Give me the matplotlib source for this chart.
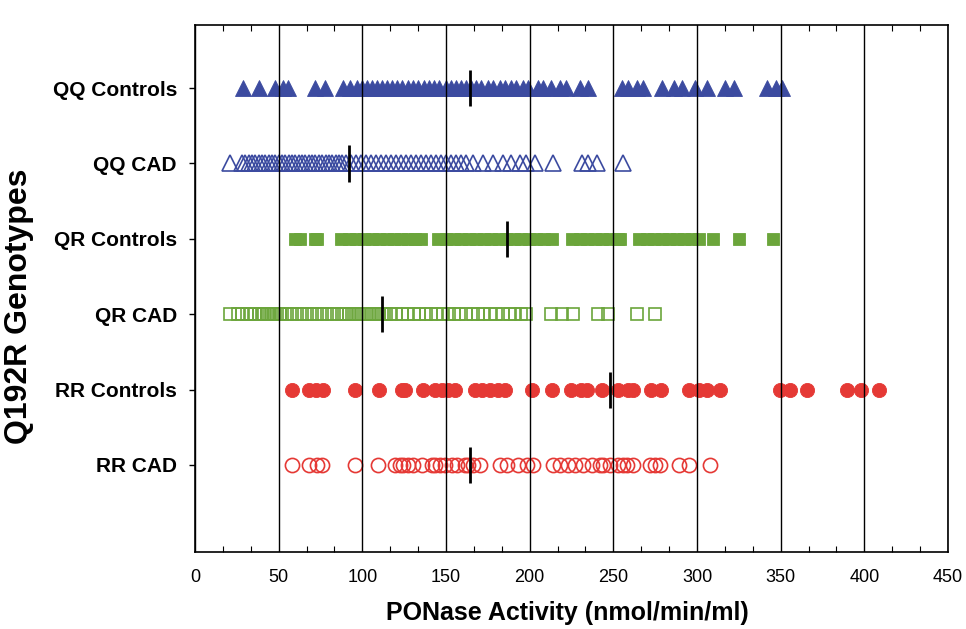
import matplotlib
matplotlib.use("Agg")
import matplotlib.pyplot as plt
from matplotlib.ticker import MultipleLocator

plt.rcParams['font.family'] = ['Liberation Sans', 'DejaVu Sans']

categories = ["QQ Controls", "QQ CAD", "QR Controls", "QR CAD", "RR Controls", "RR CAD"]

qq_controls = [28.9, 38.2, 47.8, 52.8, 55.8, 71.7, 77.7, 88.6, 92.6, 96.6,
               100, 103, 106, 109, 112, 115, 118, 121, 124, 127, 130, 133, 137, 140,
               143, 146, 150, 153, 156, 159, 162, 165, 168, 171, 175, 178, 182, 185,
               189, 192, 196, 199, 205, 208, 213, 218, 222, 230, 235, 255, 259, 264,
               268, 279, 286, 291, 299, 306, 317, 322, 342, 347, 351]
qq_cad = [20.9, 28, 30, 32, 34, 36, 38, 40, 42, 44, 46, 48, 50, 52, 54, 56, 58, 60,
          62, 64, 66, 68, 70, 72, 74, 76, 78, 80, 82, 84, 86, 88, 90, 93, 96, 99,
          102, 105, 108, 111, 114, 117, 120, 123, 126, 129, 132, 135, 138, 141,
          144, 147, 150, 153, 156, 159, 162, 166, 172, 178, 184, 189, 194, 198,
          203, 214, 231, 235, 240, 256]
qr_controls = [59.5, 62.5, 71.5, 72.7, 87.5, 92, 96.5, 101, 105.5, 110, 114.5, 119,
               123, 127.5, 131.5, 135, 145.5, 150, 154.5, 159, 163.5, 168, 172.5,
               177, 181.5, 186, 190.5, 195, 199.5, 204, 208.5, 213.5, 225.5, 230,
               234.5, 239, 243.5, 248, 252.5, 254, 265.5, 270, 274.5, 279, 283.5,
               288, 292.5, 297, 301, 309.7, 325, 345.5]
qr_cad = [21.2, 25.5, 28, 31, 33.5, 36, 38.5, 40, 41.5, 43, 44.5, 46, 47.5, 49,
          50.5, 52, 55, 58, 61, 64, 67, 70, 73, 76, 79, 82, 85, 88, 90, 92, 94,
          96, 98, 100, 102, 104, 106, 108, 110, 112, 114, 117, 120, 124, 127, 131,
          134, 138, 141, 144, 148, 152, 155, 158, 162, 166, 169, 172, 176, 180,
          184, 188, 191, 195, 198, 213, 219.3, 225.9, 241, 247, 264, 275]
rr_controls = [57.8, 68.4, 72.5, 76.5, 95.6, 110.2, 123.5, 125.5, 136, 143.5, 147.4,
               151, 155.5, 167.3, 171.3, 176.3, 181.3, 185.3, 201.2, 213.2, 224.5,
               230.5, 234.5, 243.5, 252.7, 258.6, 262, 272.8, 278.7, 295, 301,
               305.9, 314, 349.6, 355.5, 366, 389.6, 398, 408.6]
rr_cad = [57.8, 68.3, 72.7, 75.7, 95.6, 109.6, 119.5, 122.5, 124.5, 127.5, 130.5,
          135.5, 141.4, 143.4, 146.4, 149.4, 153.4, 156.4, 161.4, 163.4, 166.3,
          170.3, 182.3, 186.3, 193.2, 198.2, 202.2, 214, 218, 223, 227, 232, 237,
          242, 244, 248, 253, 256, 258, 262, 272, 275, 278, 289, 295, 308]
medians = [164.5, 92, 186.5, 112, 248, 164.5]

xticks = [0, 50, 100, 150, 200, 250, 300, 350, 400, 450]

blue = "#3C4BA0"
green = "#6BA53B"
red = "#E53935"

series = [
    (qq_controls, "^", blue, True),
    (qq_cad, "^", blue, False),
    (qr_controls, "s", green, True),
    (qr_cad, "s", green, False),
    (rr_controls, "o", red, True),
    (rr_cad, "o", red, False),
]
ypos = [6, 5, 4, 3, 2, 1]

fig = plt.figure(figsize=(9.66, 6.29), dpi=100)
ax = fig.add_axes([195/966, 1-552/629, (948-195)/966, (552-25)/629])

for (vals, mk, col, filled), y in zip(series, ypos):
    ms = {"^": 12, "s": 9.3, "o": 10.2}[mk]
    ax.plot(vals, [y]*len(vals), linestyle="none", marker=mk, markersize=ms,
            markerfacecolor=col if filled else "none", markeredgecolor=col,
            markeredgewidth=0.6 if filled else 1.2, zorder=2)

for m, y in zip(medians, ypos):
    ax.plot([m, m], [y-0.24, y+0.24], color="black", lw=2, zorder=4,
            solid_capstyle="butt")

ax.set_xlim(0, 450)
ax.set_ylim(-0.154, 6.836)
ax.set_xticks(xticks)
ax.set_xticklabels([str(t) for t in xticks], fontsize=13)
ax.xaxis.set_minor_locator(MultipleLocator(50/3))
ax.set_yticks(ypos)
ax.set_yticklabels(categories, fontsize=15, fontweight="bold")
ax.set_axisbelow(False)
ax.grid(axis="x", which="major", color="black", lw=1.0)
ax.tick_params(axis="x", which="both", direction="in", top=True, bottom=True,
               width=0.8, pad=12)
ax.tick_params(axis="x", which="major", length=0)
ax.tick_params(axis="x", which="minor", length=4)
ax.tick_params(axis="y", which="major", direction="out", length=4, width=1.0,
               pad=9, left=True, right=False)
for s in ax.spines.values():
    s.set_linewidth(1.2)

fig.text(567/966, 1-613/629, "PONase Activity (nmol/min/ml)", ha="center",
         va="center", fontsize=18, fontweight="bold")
fig.text(19/966, 1-306/629, "Q192R Genotypes", ha="center", va="center",
         rotation=90, fontsize=23, fontweight="bold")

fig.savefig("out.png", dpi=100)
